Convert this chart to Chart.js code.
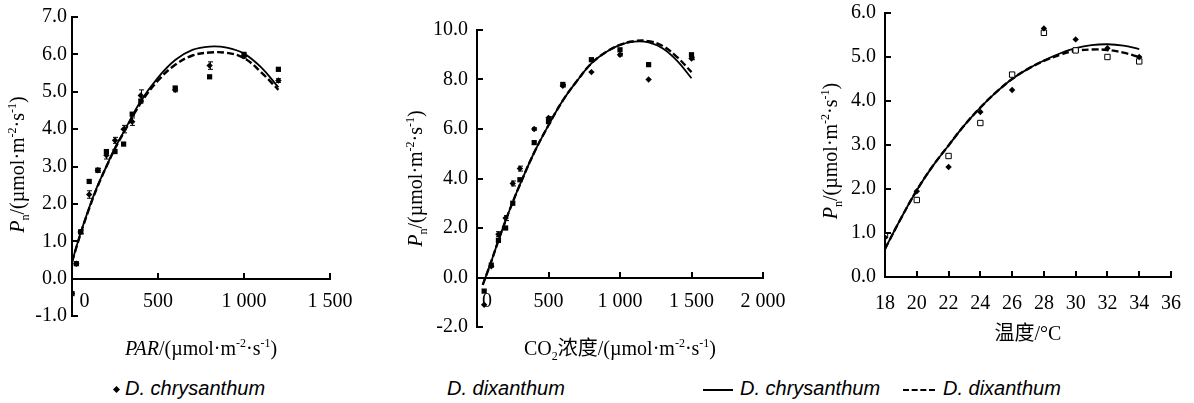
<!DOCTYPE html>
<html>
<head>
<meta charset="utf-8">
<script src="https://cdn.jsdelivr.net/npm/chart.js@4.4.1/dist/chart.umd.min.js"></script>
<style>
  body { margin: 0; background: #fff; width: 1194px; height: 403px; position: relative; overflow: hidden; }
  canvas { position: absolute; top: 0; }
  #legend { position: absolute; left: 0; top: 376px; width: 1194px; height: 27px;
    font-family: "Liberation Sans Narrow", "Liberation Sans", sans-serif; font-style: italic; font-size: 20px; color: #000; }
  #legend span { position: absolute; top: 1px; white-space: nowrap; }
  .mk { position: absolute; }
</style>
</head>
<body>
<canvas id="c1" width="390" height="365" style="left:0px"></canvas>
<canvas id="c2" width="400" height="365" style="left:390px"></canvas>
<canvas id="c3" width="404" height="365" style="left:790px"></canvas>
<div id="legend">
  <div class="mk" style="left:114px;top:11px;width:5px;height:5px;background:#000;transform:rotate(45deg)"></div>
  <span style="left:125px">D. chrysanthum</span>
  <span style="left:447px">D. dixanthum</span>
  <div class="mk" style="left:703px;top:13px;width:30px;height:2px;background:#000"></div>
  <span style="left:740px">D. chrysanthum</span>
  <div class="mk" style="left:903px;top:13px;width:32px;height:0;border-top:2px dashed #000"></div>
  <span style="left:943px">D. dixanthum</span>
</div>
<script>
const SERIF = '"Liberation Serif", "Noto Sans CJK SC", serif';

// ---- panel 1: PAR ----
const parX = [0, 25, 50, 100, 150, 200, 250, 300, 350, 400, 600, 800, 1000, 1200];
const parChrys = [-0.4, 0.4, 1.25, 2.25, 2.9, 3.3, 3.7, 4.0, 4.2, 4.9, 5.05, 5.7, 5.95, 5.3];
const parErrChrys = [0, 0, 0.05, 0.1, 0.05, 0.1, 0.08, 0.1, 0.1, 0.15, 0.05, 0.1, 0.05, 0.05];
const parDix = [-0.4, 0.4, 1.25, 2.6, 2.9, 3.4, 3.4, 3.6, 4.4, 4.75, 5.1, 5.4, 6.0, 5.6];
const parFitX = [0, 50, 100, 150, 200, 250, 300, 400, 500, 600, 700, 800, 900, 1000, 1100, 1200];
const parFitChrys = [0.45, 1.22, 1.9, 2.5, 3.0, 3.5, 3.92, 4.75, 5.38, 5.85, 6.12, 6.21, 6.18, 6.02, 5.65, 5.12];
const parFitDix = [0.45, 1.2, 1.88, 2.48, 3.0, 3.48, 3.9, 4.7, 5.3, 5.72, 5.97, 6.05, 6.04, 5.9, 5.52, 5.05];
const parXTicks = [0, 500, 1000, 1500];
const parYTicks = [-1, 0, 1, 2, 3, 4, 5, 6, 7];

// ---- panel 2: CO2 ----
const co2X = [50, 100, 150, 200, 250, 300, 400, 500, 600, 800, 1000, 1200, 1500];
const co2Chrys = [-1.1, 0.45, 1.75, 2.4, 3.8, 4.4, 6.0, 6.45, 7.75, 8.3, 9.0, 8.0, 8.85];
const co2ErrChrys = [0, 0, 0.1, 0.1, 0.1, 0.1, 0.05, 0.05, 0.05, 0, 0.05, 0, 0.05];
const co2Dix = [-0.55, 0.5, 1.5, 2.0, 3.0, 3.95, 5.45, 6.3, 7.8, 8.8, 9.2, 8.6, 9.0];
const co2FitX = [40, 100, 150, 200, 250, 300, 400, 500, 600, 700, 800, 900, 1000, 1100, 1200, 1300, 1400, 1500];
const co2FitChrys = [-0.3, 0.65, 1.5, 2.3, 3.05, 3.75, 5.05, 6.15, 7.15, 7.95, 8.65, 9.1, 9.4, 9.53, 9.5, 9.25, 8.75, 8.05];
const co2FitDix = [-0.3, 0.65, 1.5, 2.3, 3.05, 3.75, 5.05, 6.15, 7.15, 7.95, 8.65, 9.1, 9.4, 9.55, 9.55, 9.35, 8.9, 8.3];
const co2XTicks = [0, 500, 1000, 1500, 2000];
const co2YTicks = [-2, 0, 2, 4, 6, 8, 10];

// ---- panel 3: temperature ----
const tempX = [18, 20, 22, 24, 26, 28, 30, 32, 34];
const tempChrys = [0.9, 1.95, 2.5, 3.75, 4.25, 5.65, 5.4, 5.2, 5.0];
const tempDix = [0.95, 1.75, 2.75, 3.5, 4.6, 5.55, 5.15, 5.0, 4.9];
const tempFitX = [18, 19, 20, 21, 22, 23, 24, 25, 26, 27, 28, 29, 30, 31, 32, 33, 34];
const tempFitChrys = [0.64, 1.33, 1.97, 2.52, 2.99, 3.45, 3.85, 4.2, 4.5, 4.73, 4.92, 5.08, 5.2, 5.27, 5.29, 5.26, 5.18];
const tempFitDix = [0.64, 1.33, 1.97, 2.52, 2.99, 3.45, 3.85, 4.2, 4.5, 4.73, 4.91, 5.05, 5.14, 5.17, 5.16, 5.1, 5.0];
const tempXTicks = [18, 20, 22, 24, 26, 28, 30, 32, 34, 36];
const tempYTicks = [0, 1, 2, 3, 4, 5, 6];

const zip = (xs, ys) => xs.map((x, i) => ({x: x, y: ys[i]}));
const thousands = v => String(v).replace(/\B(?=(\d{3})+(?!\d))/g, ' ');

// axis titles with italic / sub / sup pieces
const unitParts = [{t: '/(µmol·m'}, {t: '-2', sup: 1}, {t: '·s'}, {t: '-1', sup: 1}, {t: ')'}];
const pnTitle = [{t: 'P', i: 1}, {t: 'n', sub: 1}].concat(unitParts);

const richTitle = {
  id: 'richTitle',
  afterDraw(chart, args, opts) {
    const ctx = chart.ctx, a = chart.chartArea;
    const draw = (parts, px, py, rot) => {
      ctx.save();
      ctx.translate(px, py);
      if (rot) ctx.rotate(rot);
      const items = parts.map(p => {
        const fs = (p.sub || p.sup) ? 12 : 20;
        const font = (p.i ? 'italic ' : '') + fs + 'px ' + SERIF;
        ctx.font = font;
        return {p: p, font: font, w: ctx.measureText(p.t).width};
      });
      let x = -items.reduce((s, it) => s + it.w, 0) / 2;
      ctx.fillStyle = '#000';
      ctx.textBaseline = 'alphabetic';
      items.forEach(it => {
        ctx.font = it.font;
        const dy = it.p.sub ? 5 : it.p.sup ? -8 : 0;
        ctx.fillText(it.p.t, x, dy);
        x += it.w;
      });
      ctx.restore();
    };
    if (opts.y) draw(opts.y.parts, a.left + opts.y.dx, (a.top + a.bottom) / 2 + (opts.y.dy || 0), -Math.PI / 2);
    if (opts.x) draw(opts.x.parts, (a.left + a.right) / 2 + (opts.x.dx || 0), a.bottom + opts.x.dy, 0);
  }
};

// tick marks pointing into the plot, like the original figure
const inwardTicks = {
  id: 'inwardTicks',
  afterDraw(chart) {
    const ctx = chart.ctx, xs = chart.scales.x, ys = chart.scales.y;
    const y0 = Math.round(ys.getPixelForValue(0));
    const x0 = Math.round(xs.left);
    ctx.save();
    ctx.strokeStyle = '#000';
    ctx.lineWidth = 2;
    ctx.beginPath();
    xs.ticks.forEach(t => {
      const px = Math.round(xs.getPixelForValue(t.value));
      ctx.moveTo(px, y0); ctx.lineTo(px, y0 - 6);
    });
    ys.ticks.forEach(t => {
      const py = Math.round(ys.getPixelForValue(t.value));
      ctx.moveTo(x0, py); ctx.lineTo(x0 + 6, py);
    });
    ctx.stroke();
    ctx.restore();
  }
};

// small error bars on the first series
const errorBars = {
  id: 'errorBars',
  afterDatasetsDraw(chart, args, opts) {
    if (!opts.err) return;
    const ctx = chart.ctx, xs = chart.scales.x, ys = chart.scales.y;
    const data = chart.data.datasets[0].data;
    ctx.save();
    ctx.strokeStyle = '#000';
    ctx.lineWidth = 1;
    ctx.beginPath();
    data.forEach((d, i) => {
      const e = opts.err[i];
      if (!e) return;
      const px = Math.round(xs.getPixelForValue(d.x)) + 0.5;
      const top = ys.getPixelForValue(d.y + e), bot = ys.getPixelForValue(d.y - e);
      ctx.moveTo(px, top); ctx.lineTo(px, bot);
      ctx.moveTo(px - 2.5, top); ctx.lineTo(px + 2.5, top);
      ctx.moveTo(px - 2.5, bot); ctx.lineTo(px + 2.5, bot);
    });
    ctx.stroke();
    ctx.restore();
  }
};

function makePanel(id, p) {
  const pts = (xs, ys, style, radius, fill) => ({
    data: zip(xs, ys), pointStyle: style, pointRadius: radius, pointHoverRadius: radius,
    backgroundColor: fill, borderColor: '#000', borderWidth: fill === '#fff' ? 1 : 0, showLine: false
  });
  const fit = (xs, ys, dash) => ({
    data: zip(xs, ys), showLine: true, pointRadius: 0, borderColor: '#000',
    borderWidth: dash ? 2.4 : 1.8, borderDash: dash ? [7, 3] : [], tension: 0.4, fill: false
  });
  const axisFont = {family: SERIF, size: 20};
  // keep the plot box exactly where the layout padding puts it
  const noPad = s => { s.paddingTop = 0; s.paddingBottom = 0; s.paddingLeft = 0; s.paddingRight = 0; };
  return new Chart(document.getElementById(id), {
    type: 'scatter',
    data: {
      datasets: [
        pts(p.x, p.chrys, 'rectRot', 3.2, '#000'),
        pts(p.x, p.dix, 'rect', p.hollow ? 3.8 : 3.7, p.hollow ? '#fff' : '#000'),
        fit(p.fitX, p.fitChrys, false),
        fit(p.fitX, p.fitDix, true)
      ]
    },
    options: {
      responsive: false,
      animation: false,
      layout: {padding: p.pad},
      plugins: {
        legend: {display: false},
        tooltip: {enabled: false},
        richTitle: p.titles,
        errorBars: {err: p.err}
      },
      scales: {
        x: {
          type: 'linear', position: {y: 0}, min: p.xTicks[0], max: p.xTicks[p.xTicks.length - 1],
          afterFit: noPad,
          afterBuildTicks: s => { s.ticks = p.xTicks.map(v => ({value: v})); },
          ticks: {
            font: axisFont, color: '#000', padding: p.xPad, maxRotation: 0, autoSkip: false,
            callback: v => (v === 0 && p.zeroShift) ? p.zeroShift + '0' : thousands(v)
          },
          grid: {drawOnChartArea: false, drawTicks: false},
          border: {color: '#000', width: 2}
        },
        y: {
          type: 'linear', min: p.yTicks[0], max: p.yTicks[p.yTicks.length - 1],
          afterFit: s => { noPad(s); s.width = p.yWidth; },
          afterBuildTicks: s => { s.ticks = p.yTicks.map(v => ({value: v})); },
          ticks: {font: axisFont, color: '#000', padding: p.yPad, callback: v => v.toFixed(1)},
          grid: {drawOnChartArea: false, drawTicks: false},
          border: {color: '#000', width: 2}
        }
      }
    },
    plugins: [richTitle, inwardTicks, errorBars]
  });
}

makePanel('c1', {
  x: parX, chrys: parChrys, dix: parDix, err: parErrChrys,
  fitX: parFitX, fitChrys: parFitChrys, fitDix: parFitDix,
  xTicks: parXTicks, yTicks: parYTicks, yWidth: 72, yPad: 5, xPad: 11, zeroShift: '     ',
  pad: {left: 0, right: 60, top: 17, bottom: 49},
  titles: {
    y: {parts: pnTitle, dx: -48, dy: -2},
    x: {parts: [{t: 'PAR', i: 1}].concat(unitParts), dy: 39}
  }
});

makePanel('c2', {
  x: co2X, chrys: co2Chrys, dix: co2Dix, err: co2ErrChrys,
  fitX: co2FitX, fitChrys: co2FitChrys, fitDix: co2FitDix,
  xTicks: co2XTicks, yTicks: co2YTicks, yWidth: 87, yPad: 9, xPad: 12, zeroShift: '    ',
  pad: {left: 0, right: 27, top: 30, bottom: 38},
  titles: {
    y: {parts: pnTitle, dx: -55},
    x: {parts: [{t: 'CO'}, {t: '2', sub: 1}, {t: '浓度'}].concat(unitParts), dy: 28}
  }
});

makePanel('c3', {
  x: tempX, chrys: tempChrys, dix: tempDix,
  fitX: tempFitX, fitChrys: tempFitChrys, fitDix: tempFitDix,
  xTicks: tempXTicks, yTicks: tempYTicks, yWidth: 95, yPad: 9, xPad: 15, hollow: true,
  pad: {left: 0, right: 23, top: 13, bottom: 88},
  titles: {
    y: {parts: pnTitle, dx: -48, dy: 6},
    x: {parts: [{t: '温度/°C'}], dy: 63}
  }
});
</script>
</body>
</html>
